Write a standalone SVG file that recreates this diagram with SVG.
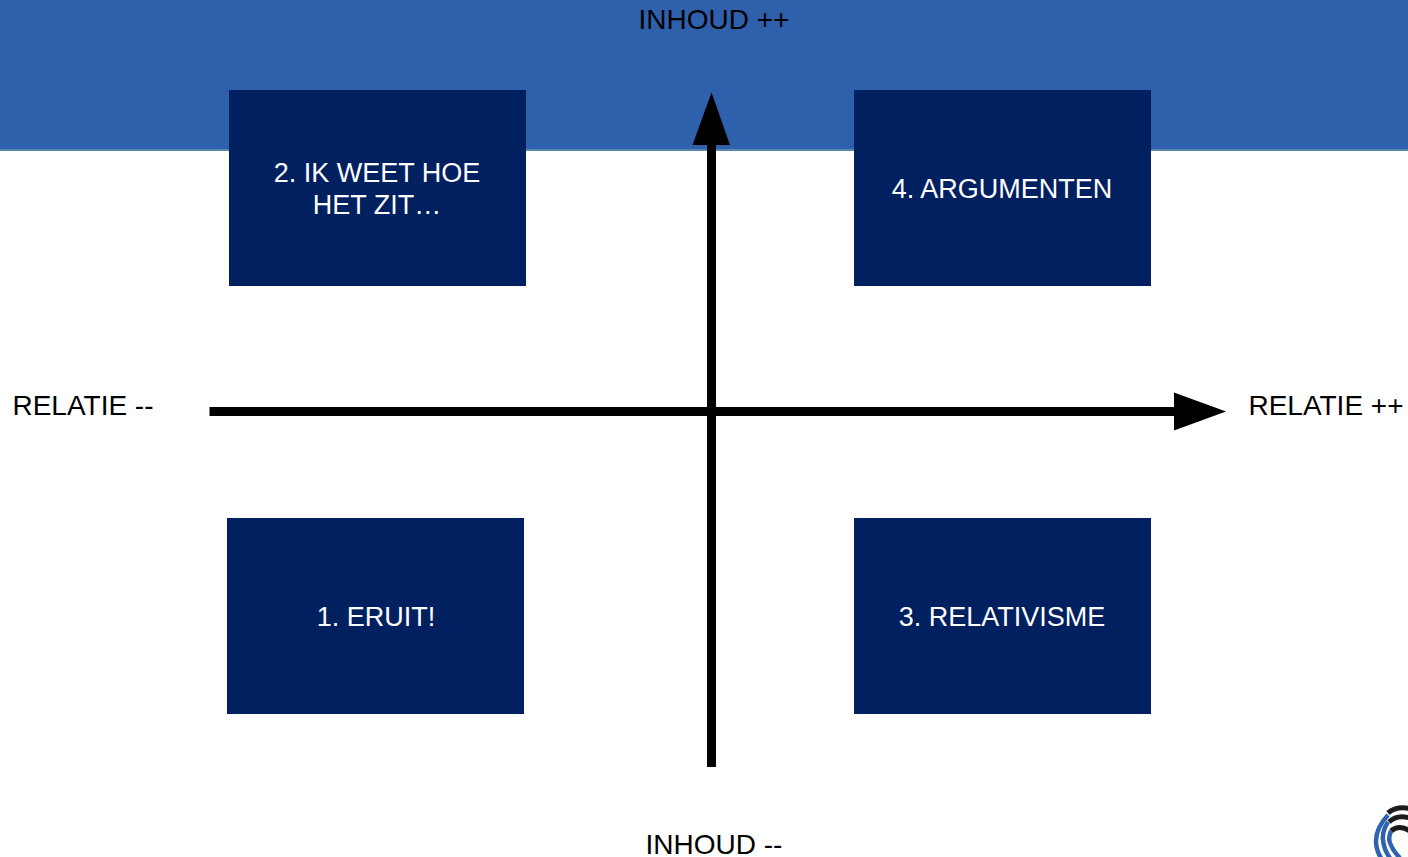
<svg xmlns="http://www.w3.org/2000/svg" width="1408" height="857" viewBox="0 0 1408 857">
<style>
.box{fill:#002060}
.t{font-family:"Liberation Sans",Arial,sans-serif;font-size:27px;text-anchor:middle}
.o{font-size:28px}
.w{fill:#fff}
.k{fill:#000}
.ax{stroke:#000;stroke-width:9;fill:none}
.bl{stroke:#2f63ae;fill:none;stroke-width:4.500}
.bk{stroke:#1c1c1c;fill:none;stroke-width:5}
</style>
<rect width="1408" height="857" fill="#fff"/>
<g id="banner">
<rect x="0" y="0" width="1408" height="149" fill="#2f60ab"/>
<rect x="0" y="149" width="1408" height="2" fill="#5b86a8"/>
</g>
<g id="connectors">
<path class="ax" d="M711.500 767V140"/>
<polygon points="711.500,92.500 730,145 692.500,145"/>
<path class="ax" d="M209.500 411.500H1178"/>
<polygon points="1226,411.500 1174,392.500 1174,430.500"/>
</g>
<g id="node-2"><rect class="box" x="229" y="90" width="297" height="196"/>
<text class="t w" x="377" y="182">2. IK WEET HOE</text><text class="t w" x="377" y="214">HET ZIT…</text></g>
<g id="node-4"><rect class="box" x="854" y="90" width="297" height="196"/>
<text class="t w" x="1002" y="198">4. ARGUMENTEN</text></g>
<g id="node-1"><rect class="box" x="227" y="518" width="297" height="196"/>
<text class="t w" x="376" y="626">1. ERUIT!</text></g>
<g id="node-3"><rect class="box" x="854" y="518" width="297" height="196"/>
<text class="t w" x="1002" y="626">3. RELATIVISME</text></g>
<g id="label-top"><text class="t o k" x="714" y="29">INHOUD ++</text></g>
<g id="label-bottom"><text class="t o k" x="714" y="854">INHOUD --</text></g>
<g id="label-left"><text class="t o k" x="83" y="415">RELATIE --</text></g>
<g id="label-right"><text class="t o k" x="1326" y="415">RELATIE ++</text></g>
<g id="logo">
<path class="bk" d="M1388 813Q1396 806 1410 808.500"/>
<path class="bk" d="M1389 822Q1397 814 1410 818"/>
<path class="bk" d="M1391 831Q1399 824 1410 831"/>
<path class="bl" d="M1388 815Q1376 828 1376 841Q1376 850 1381 858"/>
<path class="bl" d="M1388 822Q1382 831 1383 840Q1384 850 1390 858"/>
<path class="bl" d="M1391 831Q1388 838 1390 843Q1393 851 1400 858"/>
</g>
</svg>
